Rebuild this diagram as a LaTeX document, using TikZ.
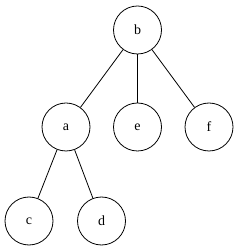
\documentclass[tikz,border=0pt]{standalone}
\usepackage{fontspec}
\setmainfont{Liberation Serif}
\usepackage{tikz}
\usetikzlibrary{
    positioning,
    calc
}
\tikzset{
    treenode/.style={
        draw,
        circle,
        line width=0.8pt,
        minimum size=48pt,
        inner sep=0pt,
        font=\fontsize{14}{16}\selectfont
    }
}
\tikzset{
    edge/.style={
        draw=black,
        line width=0.8pt
    }
}

\begin{document}
\begin{tikzpicture}[x=1pt,y=1pt]

\useasboundingbox (0,0) rectangle (239,251);

\node[treenode] (b) at (137.5,221) {b};
\node[treenode] (a) at (66,124) {a};
\node[treenode] (e) at (137.5,124) {e};
\node[treenode] (f) at (209,124) {f};
\node[treenode] (c) at (29,30) {c};
\node[treenode] (d) at (101.5,30) {d};

\draw[edge] (b) -- (a);
\draw[edge] (b) -- (e);
\draw[edge] (b) -- (f);
\draw[edge] (a) -- (c);
\draw[edge] (a) -- (d);

\end{tikzpicture}
\end{document}
